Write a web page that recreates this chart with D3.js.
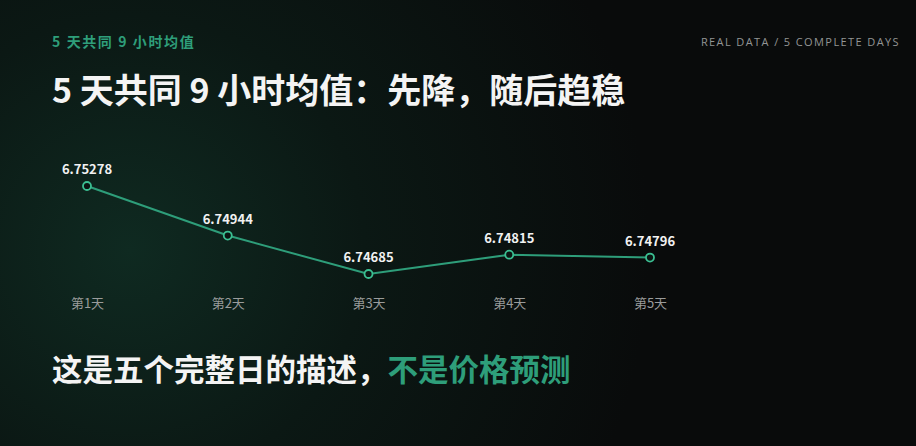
<!DOCTYPE html>
<html>
<head>
<meta charset="utf-8">
<script src="https://cdn.jsdelivr.net/npm/d3@7"></script>
<style>
  html, body { margin: 0; padding: 0; background: #0a0c0c; }
  svg { display: block; }
  text { font-family: "Noto Sans CJK SC", "Noto Sans", sans-serif; }
</style>
</head>
<body>
<div id="chart"></div>
<script>
// five full days, common 9-hour mean
const days = ['第1天', '第2天', '第3天', '第4天', '第5天'];
const means = [6.75278, 6.74944, 6.74685, 6.74815, 6.74796];

const width = 916, height = 446;
const green = '#2e9e7a';

const svg = d3.select('#chart').append('svg')
    .attr('width', width)
    .attr('height', height);

// background glow
const defs = svg.append('defs');
const glow = defs.append('radialGradient')
    .attr('id', 'glow')
    .attr('gradientUnits', 'userSpaceOnUse')
    .attr('cx', 130).attr('cy', 250).attr('r', 520);
glow.append('stop').attr('offset', '0%').attr('stop-color', '#0f2a21');
glow.append('stop').attr('offset', '45%').attr('stop-color', '#0b1814');
glow.append('stop').attr('offset', '100%').attr('stop-color', '#090b0b');

svg.append('rect')
    .attr('width', width)
    .attr('height', height)
    .attr('fill', 'url(#glow)');

// header
svg.append('text')
    .attr('x', 52).attr('y', 47)
    .attr('fill', green)
    .style('font-size', '14px')
    .style('font-weight', 700)
    .style('letter-spacing', '1.6px')
    .text('5 天共同 9 小时均值');

svg.append('text')
    .attr('x', 900).attr('y', 46)
    .attr('text-anchor', 'end')
    .attr('fill', '#929594')
    .style('font-family', '"Open Sans", "Noto Sans", sans-serif')
    .style('font-size', '11px')
    .style('letter-spacing', '1.4px')
    .text('REAL DATA / 5 COMPLETE DAYS');

svg.append('text')
    .attr('x', 52).attr('y', 103)
    .attr('fill', '#f4f4f4')
    .style('font-size', '34px')
    .style('font-weight', 700)
    .text('5 天共同 9 小时均值：先降，随后趋稳');

// scales
const x = d3.scalePoint()
    .domain(days)
    .range([87, 650]);

const y = d3.scaleLinear()
    .domain([d3.min(means), d3.max(means)])
    .range([274, 186]);

const points = days.map((d, i) => ({day: d, value: means[i]}));

// line
svg.append('path')
    .datum(points)
    .attr('fill', 'none')
    .attr('stroke', green)
    .attr('stroke-width', 2)
    .attr('d', d3.line().x(d => x(d.day)).y(d => y(d.value)));

// markers
svg.selectAll('circle.pt')
    .data(points)
    .enter()
    .append('circle')
    .attr('class', 'pt')
    .attr('cx', d => x(d.day))
    .attr('cy', d => y(d.value))
    .attr('r', 4)
    .attr('fill', '#0b1512')
    .attr('stroke', '#3bbf92')
    .attr('stroke-width', 1.8);

// value labels
svg.selectAll('text.val')
    .data(points)
    .enter()
    .append('text')
    .attr('class', 'val')
    .attr('x', d => x(d.day))
    .attr('y', d => y(d.value) - 12)
    .attr('text-anchor', 'middle')
    .attr('fill', '#f2f2f2')
    .style('font-size', '13px')
    .style('font-weight', 700)
    .text(d => d.value.toFixed(5));

// day axis
const xAxis = d3.axisBottom(x).tickSize(0).tickPadding(0);
const ax = svg.append('g')
    .attr('transform', 'translate(0,299)')
    .call(xAxis);
ax.select('.domain').remove();
ax.selectAll('text')
    .attr('dy', '0.71em')
    .attr('fill', '#9a9c9b')
    .style('font-size', '13px')
    .style('font-family', '"Noto Sans CJK SC", sans-serif');

// footer
const foot = svg.append('text')
    .attr('x', 52).attr('y', 381)
    .style('font-size', '30.5px')
    .style('font-weight', 700);
foot.append('tspan').attr('fill', '#f4f4f4').text('这是五个完整日的描述，');
foot.append('tspan').attr('fill', green).text('不是价格预测');
</script>
</body>
</html>
